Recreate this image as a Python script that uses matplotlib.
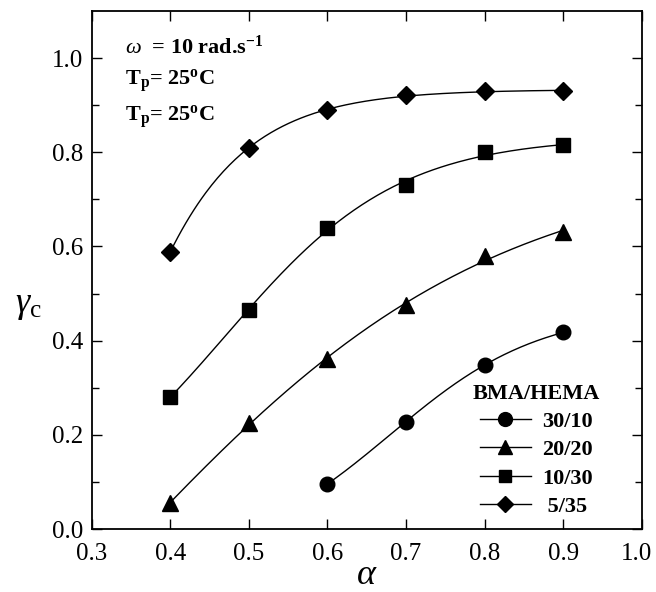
import numpy as np
import matplotlib
matplotlib.use("Agg")
import matplotlib.pyplot as plt
import matplotlib.transforms as mtransforms
from matplotlib.lines import Line2D

plt.rcParams['font.family'] = ['Liberation Serif', 'DejaVu Serif']
plt.rcParams['mathtext.fontset'] = 'custom'
plt.rcParams['mathtext.rm'] = 'Liberation Serif'
plt.rcParams['mathtext.it'] = 'Liberation Serif:italic'
plt.rcParams['mathtext.bf'] = 'Liberation Serif:bold'

alpha_5_35 = [0.4, 0.5, 0.6, 0.7, 0.8, 0.9]
gamma_5_35 = [0.588, 0.81, 0.889, 0.921, 0.93, 0.93]
alpha_10_30 = [0.4, 0.5, 0.6, 0.7, 0.8, 0.9]
gamma_10_30 = [0.28, 0.465, 0.64, 0.73, 0.80, 0.815]
alpha_20_20 = [0.4, 0.5, 0.6, 0.7, 0.8, 0.9]
gamma_20_20 = [0.055, 0.226, 0.36, 0.475, 0.58, 0.63]
alpha_30_10 = [0.6, 0.7, 0.8, 0.9]
gamma_30_10 = [0.096, 0.228, 0.348, 0.418]

x_tick_labels = ['0.3', '0.4', '0.5', '0.6', '0.7', '0.8', '0.9', '1.0']
y_tick_labels = ['0.0', '0.2', '0.4', '0.6', '0.8', '1.0']

series = [
    ("30/10", alpha_30_10, gamma_30_10, 'o', 10.5),
    ("20/20", alpha_20_20, gamma_20_20, '^', 11),
    ("10/30", alpha_10_30, gamma_10_30, 's', 9.5),
    (" 5/35", alpha_5_35, gamma_5_35, 'D', 9),
]


def sigmoid_fit(xs, ys):
    """Least-squares fit y = a + b*tanh((x-c)/d) by grid search on c, d."""
    best = None
    for c in np.linspace(0.0, 1.2, 121):
        for d in np.linspace(0.05, 1.0, 96):
            t = np.tanh((xs - c) / d)
            A = np.column_stack([np.ones_like(t), t])
            coef, *_ = np.linalg.lstsq(A, ys, rcond=None)
            err = np.sum((A @ coef - ys) ** 2)
            if best is None or err < best[0]:
                best = (err, c, d, coef)
    _, c, d, coef = best
    return lambda x: coef[0] + coef[1] * np.tanh((x - c) / d)


fig = plt.figure(figsize=(6.56, 5.92), dpi=100)
ax = fig.add_axes([0.1395, 0.1064, 0.8392, 0.875])

handles = []
for label, xs, ys, mk, ms in series:
    xs = np.array(xs); ys = np.array(ys)
    f = sigmoid_fit(xs, ys)
    xf = np.linspace(xs.min(), xs.max(), 200)
    ax.plot(xf, f(xf), color='black', lw=1.0)
    ax.plot(xs, ys, linestyle='none', marker=mk, markersize=ms,
            color='black', markeredgecolor='black')
    handles.append(Line2D([], [], color='black', lw=1.0, marker=mk,
                          markersize=ms * 0.95, label=label))

ax.set_xlim(0.3, 1.0)
ax.set_ylim(0.0, 1.1)
ax.set_xticks(np.arange(0.3, 1.01, 0.1))
ax.set_xticklabels(x_tick_labels)
ax.set_yticks(np.arange(0.0, 1.01, 0.2))
ax.set_yticklabels(y_tick_labels)
ax.set_yticks(np.arange(0.1, 1.1, 0.2), minor=True)
ax.tick_params(which='both', direction='in', top=True, right=True,
               labelsize=18, width=1.0)
ax.tick_params(which='major', length=7)
ax.tick_params(axis='x', which='major', pad=10)
ax.tick_params(axis='y', which='major', pad=6)
ax.tick_params(which='minor', length=5)
for s in ax.spines.values():
    s.set_linewidth(1.3)

# keep the last x tick label inside the figure, as in the reference
last = ax.get_xticklabels()[-1]
last.set_transform(last.get_transform() +
                   mtransforms.ScaledTranslation(-6 / 100, 0, fig.dpi_scale_trans))

ax.set_xlabel(r'$\alpha$', fontsize=26, labelpad=-4)
ax.set_ylabel(r'$\gamma_{\mathrm{c}}$', fontsize=26, rotation=0)
ax.yaxis.set_label_coords(-0.115, 0.40)

txt_kw = dict(transform=ax.transAxes, fontsize=16, fontweight='bold',
              va='center', ha='left')
ax.text(0.06, 0.930, r'$\omega$  = 10 rad.s$^{\mathbf{-1}}$', **txt_kw)
ax.text(0.06, 0.865, r'T$_{\mathbf{p}}$= 25$^{\mathbf{o}}$C', **txt_kw)
ax.text(0.06, 0.795, r'T$_{\mathbf{p}}$= 25$^{\mathbf{o}}$C', **txt_kw)

leg = ax.legend(handles=handles, title='BMA/HEMA', loc='lower right',
                bbox_to_anchor=(0.956, -0.011), frameon=False,
                prop={'size': 16, 'weight': 'bold'},
                title_fontproperties={'size': 16, 'weight': 'bold'},
                handlelength=2.3, handletextpad=0.5, labelspacing=0.35,
                borderpad=0.3)

fig.savefig('out.png', dpi=100)
